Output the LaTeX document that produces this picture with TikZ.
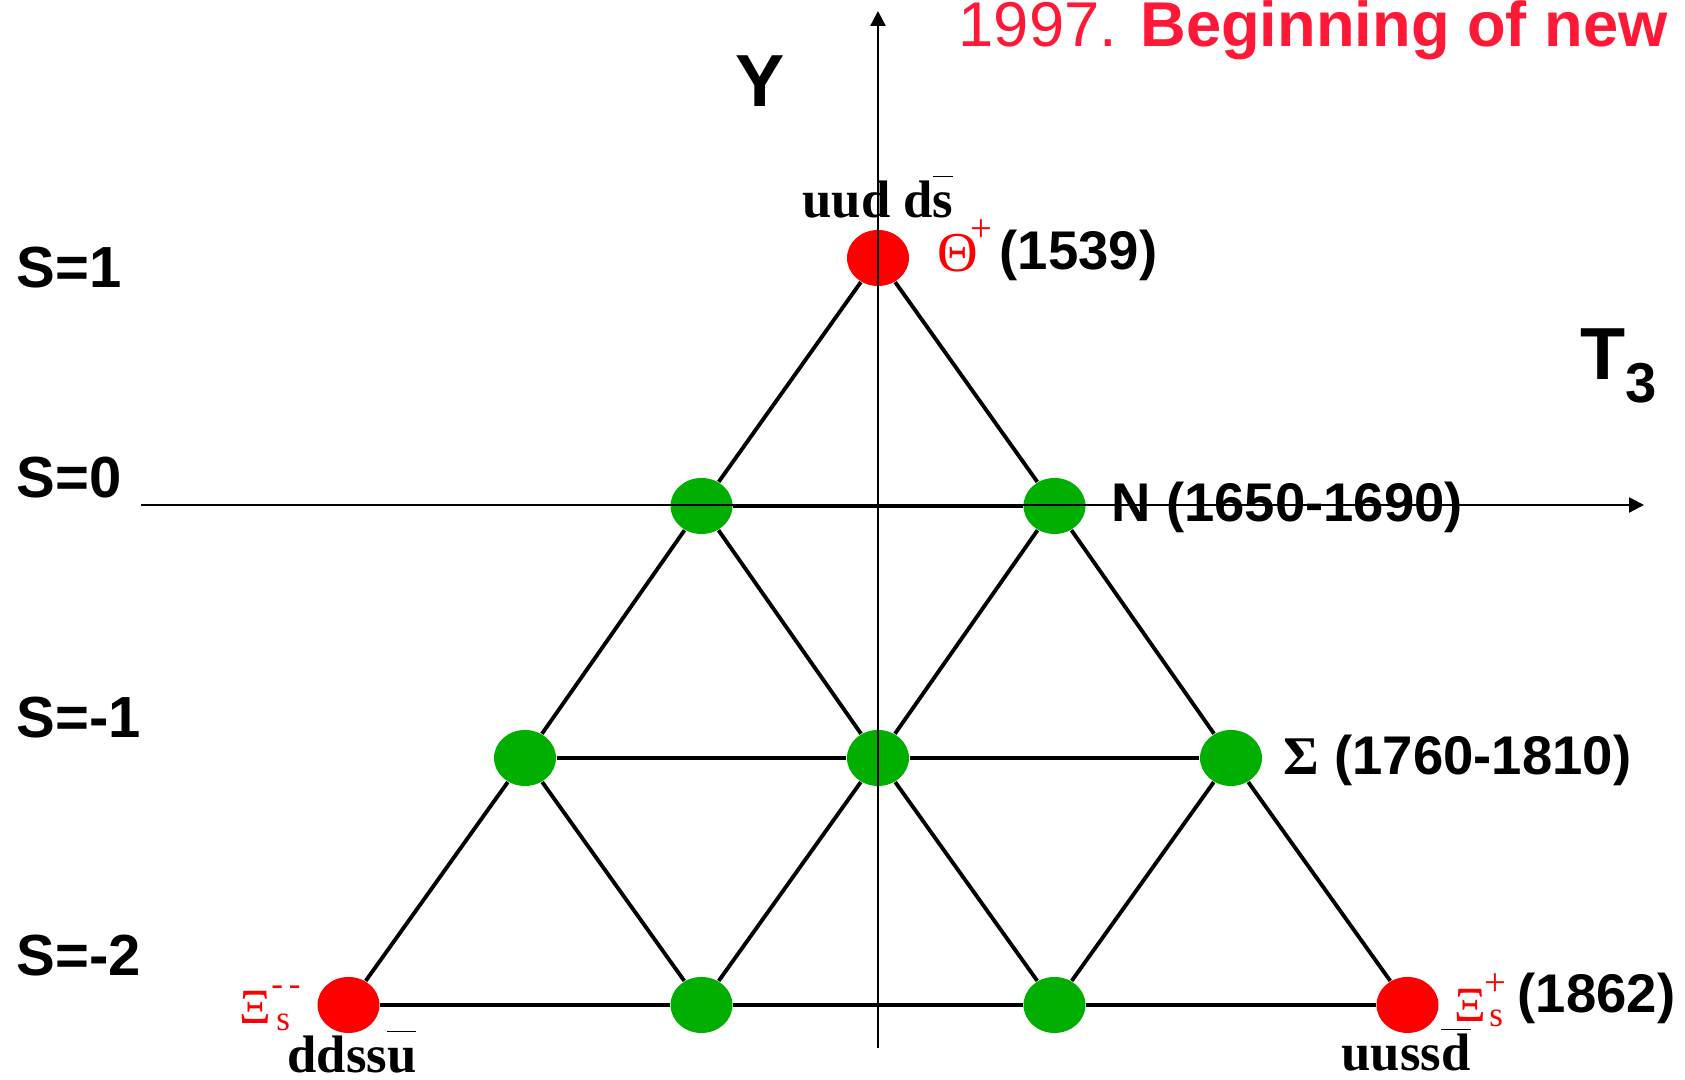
\documentclass[tikz,border=0pt]{standalone}
\usepackage{fontspec}
\usepackage{tikz}
\usetikzlibrary{arrows.meta,shapes.geometric}
\usepackage{xcolor}
\setmainfont{Liberation Sans}
\newfontfamily\serifface{Liberation Serif}
\definecolor{dotred}{RGB}{255,0,0}
\definecolor{dotgreen}{RGB}{0,175,0}
\definecolor{titlered}{RGB}{255,25,55}
\newcommand{\qbar}[1]{$\overline{\hbox{#1\vphantom{d}}}$}

\begin{document}
\begin{tikzpicture}[>={Triangle[length=1.5mm,width=1.5mm]},
    dot/.style={ellipse, minimum width=0.62cm, minimum height=0.56cm, inner sep=0pt},
    reddot/.style={dot, fill=dotred},
    greendot/.style={dot, fill=dotgreen},
    link/.style={line width=1.1pt},
    axis/.style={->, line width=0.7pt},
    lab/.style={inner sep=0pt, anchor=base west, font=\fontsize{15.5}{18}\selectfont\bfseries},
    quark/.style={inner sep=0pt, anchor=base, font=\serifface\fontsize{15}{18}\selectfont\bfseries},
    particle/.style={inner sep=0pt, anchor=base west, text=dotred, font=\serifface\fontsize{14}{16}\selectfont},
    strange/.style={inner sep=0pt, anchor=base west, font=\fontsize{16.5}{20}\selectfont\bfseries}]

    \useasboundingbox (0,0) rectangle (16.85,10.80);

    \node[reddot] (theta) at (8.78,8.22) {};
    \node[greendot] (n1) at (7.015,5.74) {};
    \node[greendot] (n2) at (10.545,5.74) {};
    \node[greendot] (s1) at (5.25,3.22) {};
    \node[greendot] (s2) at (8.78,3.22) {};
    \node[greendot] (s3) at (12.31,3.22) {};
    \node[reddot] (xim) at (3.485,0.75) {};
    \node[greendot] (x1) at (7.015,0.75) {};
    \node[greendot] (x2) at (10.545,0.75) {};
    \node[reddot] (xip) at (14.075,0.75) {};

    \draw[link] (theta) -- (n1);
    \draw[link] (theta) -- (n2);
    \draw[link] (n1) -- (n2);
    \draw[link] (n1) -- (s1);
    \draw[link] (n1) -- (s2);
    \draw[link] (n2) -- (s2);
    \draw[link] (n2) -- (s3);
    \draw[link] (s1) -- (s2);
    \draw[link] (s2) -- (s3);
    \draw[link] (s1) -- (xim);
    \draw[link] (s1) -- (x1);
    \draw[link] (s2) -- (x1);
    \draw[link] (s2) -- (x2);
    \draw[link] (s3) -- (x2);
    \draw[link] (s3) -- (xip);
    \draw[link] (xim) -- (x1);
    \draw[link] (x1) -- (x2);
    \draw[link] (x2) -- (xip);

    \coordinate (ybot) at (8.78,0.32);
    \coordinate (ytop) at (8.78,10.69);
    \coordinate (xleft) at (1.41,5.75);
    \coordinate (xright) at (16.44,5.75);
    \draw[axis] (ybot) -- (ytop);
    \draw[axis] (xleft) -- (xright);

    \node[font=\fontsize{21}{24}\selectfont\bfseries] (ylab) at (7.60,9.99) {Y};
    \node[inner sep=0pt, anchor=base west, font=\fontsize{21}{24}\selectfont\bfseries] (tlab) at (15.80,7.00) {T\raisebox{-0.23cm}{\fontsize{16}{18}\selectfont 3}};

    \node[strange] (s1lab) at (0.16,7.92) {S=1};
    \node[strange] (s0lab) at (0.16,5.82) {S=0};
    \node[strange] (sm1lab) at (0.16,3.42) {S=-1};
    \node[strange] (sm2lab) at (0.16,1.04) {S=-2};

    \node[inner sep=0pt, anchor=base west, text=titlered, font=\fontsize{18}{21}\selectfont] (title) at (9.58,10.33) {1997. \textbf{Beginning of new}};

    \node[quark] (thetaq) at (8.78,8.62) {uud d\qbar{s}};
    \node[quark] (ximq) at (3.52,0.07) {ddss\qbar{u}};
    \node[quark] (xipq) at (14.06,0.09) {uuss\qbar{d}};

    \node[particle, font=\serifface\fontsize{16}{18}\selectfont] (thetasym) at (9.37,8.08) {Θ\kern-0.08cm\raisebox{0.30cm}{\fontsize{11}{12}\selectfont +}};
    \node[lab] (thetamass) at (9.99,8.10) {(1539)};
    \node[lab] (nlab) at (11.11,5.58) {N (1650-1690)};
    \node[lab] (sigmalab) at (12.83,3.05) {{\serifface Σ} (1760-1810)};
    \node[particle] (ximsym) at (2.39,0.56) {Ξ\rlap{\kern0.05cm\raisebox{-0.07cm}{\fontsize{10}{12}\selectfont s}}\raisebox{0.28cm}{\fontsize{10}{12}\selectfont -\,-}};
    \node[particle] (xipsym) at (14.54,0.58) {Ξ\rlap{\kern0.03cm\raisebox{-0.05cm}{\fontsize{10}{12}\selectfont s}}\kern-0.02cm\raisebox{0.26cm}{\fontsize{11}{12}\selectfont +}};
    \node[lab] (xipmass) at (15.17,0.67) {(1862)};
\end{tikzpicture}
\end{document}
